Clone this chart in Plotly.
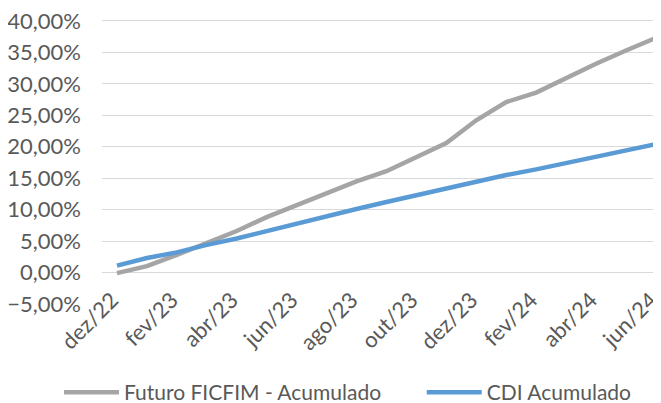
import plotly.graph_objects as go

months = ["dez/22", "jan/23", "fev/23", "mar/23", "abr/23", "mai/23", "jun/23",
          "jul/23", "ago/23", "set/23", "out/23", "nov/23", "dez/23", "jan/24",
          "fev/24", "mar/24", "abr/24", "mai/24", "jun/24"]
futuro = [-0.1, 1.0, 2.8, 4.7, 6.6, 8.8, 10.7, 12.6, 14.5, 16.1, 18.3, 20.6,
          24.2, 27.1, 28.6, 30.9, 33.2, 35.3, 37.3]
cdi = [1.1, 2.3, 3.2, 4.4, 5.4, 6.6, 7.7, 8.9, 10.1, 11.2, 12.3, 13.3,
       14.4, 15.5, 16.4, 17.4, 18.4, 19.4, 20.4]
tick_labels = months[::2]
y_ticks = [-0.05, 0.0, 0.05, 0.10, 0.15, 0.20, 0.25, 0.30, 0.35, 0.40]

x = list(range(len(months)))
fig = go.Figure()
fig.add_trace(go.Scatter(x=x, y=[v / 100 for v in futuro], mode="lines",
                         name="Futuro FICFIM - Acumulado", legend="legend",
                         line=dict(color="#A5A5A5", width=4.5)))
fig.add_trace(go.Scatter(x=x, y=[v / 100 for v in cdi], mode="lines",
                         name="CDI Acumulado", legend="legend2",
                         line=dict(color="#5B9BD5", width=4.5)))

font = dict(family="Lato, Roboto, sans-serif", size=22, color="#595959")
legfont = dict(family="Lato, Roboto, sans-serif", size=21, color="#595959")
fig.update_layout(
    width=653, height=395,
    margin=dict(l=94, r=0, t=11, b=99, autoexpand=False),
    paper_bgcolor="white", plot_bgcolor="white",
    separators=",.",
    font=font,
    showlegend=True,
    legend=dict(orientation="h", x=-0.077, xanchor="left", y=-0.311,
                yanchor="middle", font=legfont, itemwidth=55),
    legend2=dict(orientation="h", x=0.572, xanchor="left", y=-0.311,
                 yanchor="middle", font=legfont, itemwidth=55),
    xaxis=dict(range=[-0.5, 18.17], tickmode="array", tickvals=x[::2],
               ticktext=tick_labels, tickangle=-45, showgrid=False,
               zeroline=False, showline=False, ticks="", automargin=False,
               ticklabeloverflow="allow", ticklabelstandoff=-22,
               ticklabelshift=-5),
    yaxis=dict(range=[-0.0501, 0.4031], tickmode="array", tickvals=y_ticks,
               tickformat=".2%",
               showgrid=True, gridcolor="#D9D9D9", gridwidth=1.3,
               zeroline=False, showline=False, ticks="", ticklabelstandoff=20,
               automargin=False, ticklabeloverflow="allow"),
)
fig.write_html("out.html")
